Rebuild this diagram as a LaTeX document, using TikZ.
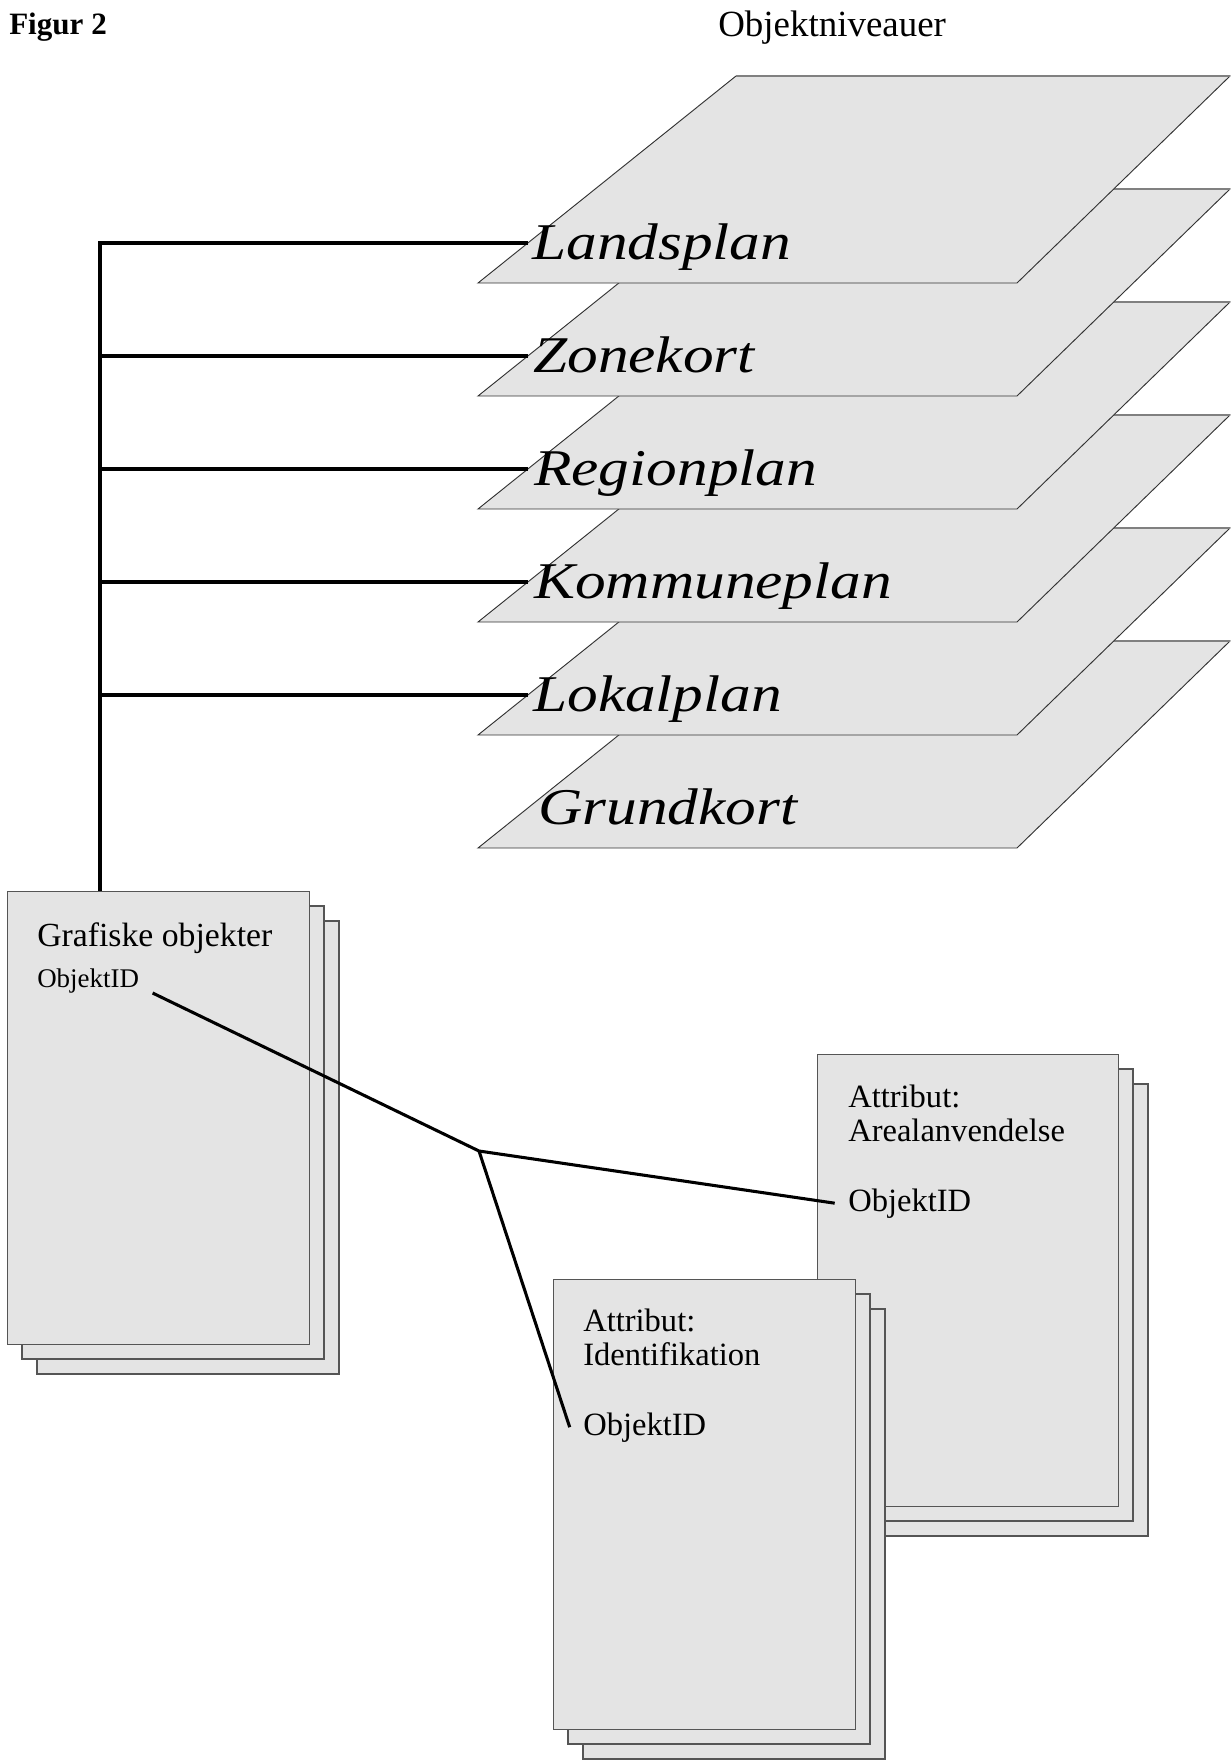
\documentclass[tikz,border=0pt]{standalone}
\usepackage{fontspec}
\setmainfont{Liberation Serif}
\usetikzlibrary{positioning}
\definecolor{sheetgray}{RGB}{228,228,228}
\definecolor{edgegray}{RGB}{85,85,85}

\tikzset{
  sheet/.style={draw=edgegray, fill=sheetgray, line width=0.8pt},
  layer/.style={draw=black!80, fill=sheetgray, line width=0.7pt},
  layertop/.style={draw=gray, line width=1.5pt},
  link/.style={draw=black, line width=2.3pt},
  planlabel/.style={anchor=base west, inner sep=0pt, font=\fontsize{46}{46}\selectfont\itshape},
  boxtext/.style={anchor=north west, inner sep=0pt, align=left, font=\fontsize{24.4}{25.5}\selectfont},
  idtext/.style={anchor=base west, inner xsep=10pt, inner ysep=0pt, font=\fontsize{24.4}{25.5}\selectfont},
}

\begin{document}
\begin{tikzpicture}[x=0.75pt,y=0.75pt,yscale=-1,xscale=1]
\useasboundingbox (0,0) rectangle (1231,1760);

% Titles
\node[anchor=base west, inner sep=0pt, font=\fontsize{23.3}{24}\selectfont\bfseries] (figtitle) at (9,34) {Figur 2};
\node[anchor=base west, inner sep=0pt, font=\fontsize{27.7}{28}\selectfont] (leveltitle) at (718,36) {Objektniveauer};

% Layers, lowest first
\foreach \i/\plan/\lx in {5/Grundkort/538,4/Lokalplan/533,3/Kommuneplan/534,2/Regionplan/534,1/Zonekort/533,0/Landsplan/532}{
  \pgfmathsetmacro{\b}{283+113*\i}
  \draw[layer] (478,\b) -- (1017,\b) -- (1230,\b-207) -- (736,\b-207) -- cycle;
  \draw[layertop] (736,\b-207) -- (1230,\b-207);
  \node[planlabel] (plan\i) at (\lx,\b-24) {\scalebox{1}[0.84]{\plan}};
  \coordinate (lvl\i) at (528,\b-40);
}

% Grafiske objekter
\foreach \d in {30,15}
  \draw[sheet] (7+\d,891+\d) rectangle ++(302,453);
\node[sheet, anchor=north west, minimum width=226.5pt, minimum height=339.75pt, inner sep=0pt] (grafisk) at (7,891) {};
\node[boxtext, font=\fontsize{25.3}{26}\selectfont] (grafisktxt) at (37,922) {Grafiske objekter};
\node[idtext, font=\fontsize{20.2}{21}\selectfont] (gid) at (23.7,987) {ObjektID};

% Attribut: Arealanvendelse
\foreach \d in {30,15}
  \draw[sheet] (817+\d,1054+\d) rectangle ++(301,452);
\node[sheet, anchor=north west, minimum width=225.75pt, minimum height=339pt, inner sep=0pt] (areal) at (817,1054) {};
\node[boxtext] (arealtxt) at (848,1085) {Attribut:\\Arealanvendelse};
\node[idtext] (aid) at (834.7,1211) {ObjektID};

% Attribut: Identifikation
\foreach \d in {30,15}
  \draw[sheet] (553+\d,1279+\d) rectangle ++(302,450);
\node[sheet, anchor=north west, minimum width=226.5pt, minimum height=337.5pt, inner sep=0pt] (ident) at (553,1279) {};
\node[boxtext] (identtxt) at (583,1309) {Attribut:\\Identifikation};
\node[idtext] (iid) at (569.7,1435) {ObjektID};

% Connectors
\coordinate (spine) at (100,243);
\draw[link] (lvl0) -- (spine) -- (spine |- grafisk.north);
\foreach \i in {1,...,4}
  \draw[link] (spine |- lvl\i) -- (lvl\i);
\coordinate (hub) at (479,1151);
\draw[link] (gid.south east) -- (hub) -- (aid.west);
\draw[link] (hub) -- (iid.west);

\end{tikzpicture}
\end{document}
